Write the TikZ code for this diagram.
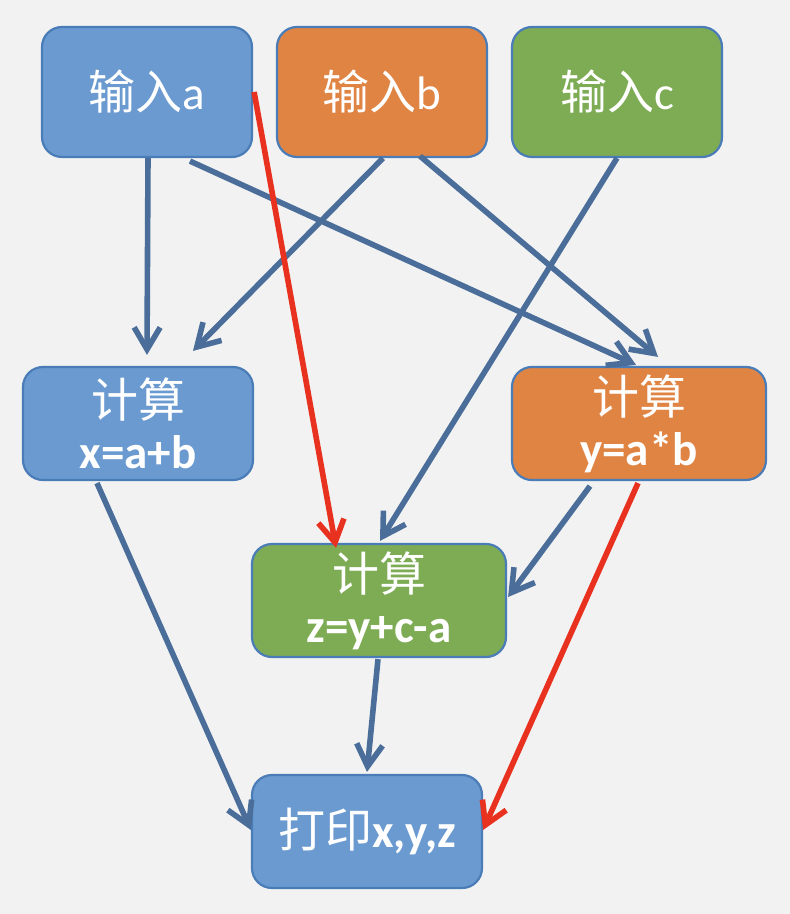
\documentclass[tikz,border=0pt]{standalone}
\usepackage{fontspec}
\setmainfont{Carlito}
\newfontfamily\cjk{Noto Sans CJK SC}
\usetikzlibrary{arrows.meta,calc}
\definecolor{bg}{HTML}{F2F2F2}
\definecolor{bluefill}{HTML}{6A9ACF}
\definecolor{orangefill}{HTML}{E08444}
\definecolor{greenfill}{HTML}{7EAC55}
\definecolor{boxline}{HTML}{4A7CB8}
\definecolor{arrowblue}{HTML}{4A6E99}
\definecolor{arrowred}{HTML}{E8311F}
\tikzset{
  box/.style={draw=boxline, line width=1.1pt, rounded corners=10pt, text=white, align=center, inner sep=0pt},
  topbox/.style={box, minimum width=105pt, minimum height=65pt, font=\fontsize{23.5}{26}\selectfont},
  calcbox/.style={box, minimum height=56.5pt, font=\fontsize{23.5}{25.5}\selectfont},
  conn/.style={draw=arrowblue, line width=2.8pt, -{Straight Barb[length=11pt,width=13pt,line width=2.8pt]}},
  redconn/.style={conn, draw=arrowred},
}
\begin{document}
\begin{tikzpicture}[x=0.5pt,y=-0.5pt]
\fill[bg] (0,0) rectangle (790,914);
\useasboundingbox (0,0) rectangle (790,914);
\node[topbox, fill=bluefill] (A) at (147,92) {{\cjk 输入}a};
\node[topbox, fill=orangefill] (B) at (382,92) {{\cjk 输入}b};
\node[topbox, fill=greenfill] (C) at (617,92) {{\cjk 输入}c};
\node[calcbox, fill=bluefill, minimum width=115pt] (X) at (138,423.5) {{\cjk 计算}\\\textbf{x=a+b}};
\node[calcbox, fill=orangefill, minimum width=127pt] (Y) at (639,423.5) {{\cjk 计算}\\\textbf{y=a*b}};
\node[calcbox, fill=greenfill, minimum width=127pt] (Z) at (379,600.5) {{\cjk 计算}\\\textbf{z=y+c-a}};
\node[calcbox, fill=bluefill, minimum width=115pt] (P) at (367,831.5) {{\cjk 打印}\textbf{x,y,z}};
\draw[conn] ($(A.south)+(1,0)$) -- ($(X.north)+(9,-11)$);
\draw[conn] ($(B.south)+(1,0)$) -- ($(X.north)+(55,-15)$);
\draw[conn] ($(A.south)+(43,3)$) -- ($(Y.north)+(-3,-1)$);
\draw[conn] ($(B.south)+(38,-2)$) -- ($(Y.north)+(19,-9)$);
\draw[conn] ($(C.south)+(0,0)$) -- ($(Z.north)+(1,-2)$);
\draw[redconn] ($(A.east)+(1,0)$) -- ($(Z.north)+(-43,5)$);
\draw[conn] ($(X.south)+(-41,2)$) -- ($(P.west)+(0,-1.5)$);
\draw[conn] ($(Y.south)+(-49,5)$) -- ($(Z.east)+(1,-3.5)$);
\draw[conn] ($(Z.south)+(-1,1)$) -- ($(P.north)+(0,-2)$);
\draw[redconn] ($(Y.south)+(-1,2)$) -- ($(P.east)+(0,-1.5)$);
\end{tikzpicture}
\end{document}
